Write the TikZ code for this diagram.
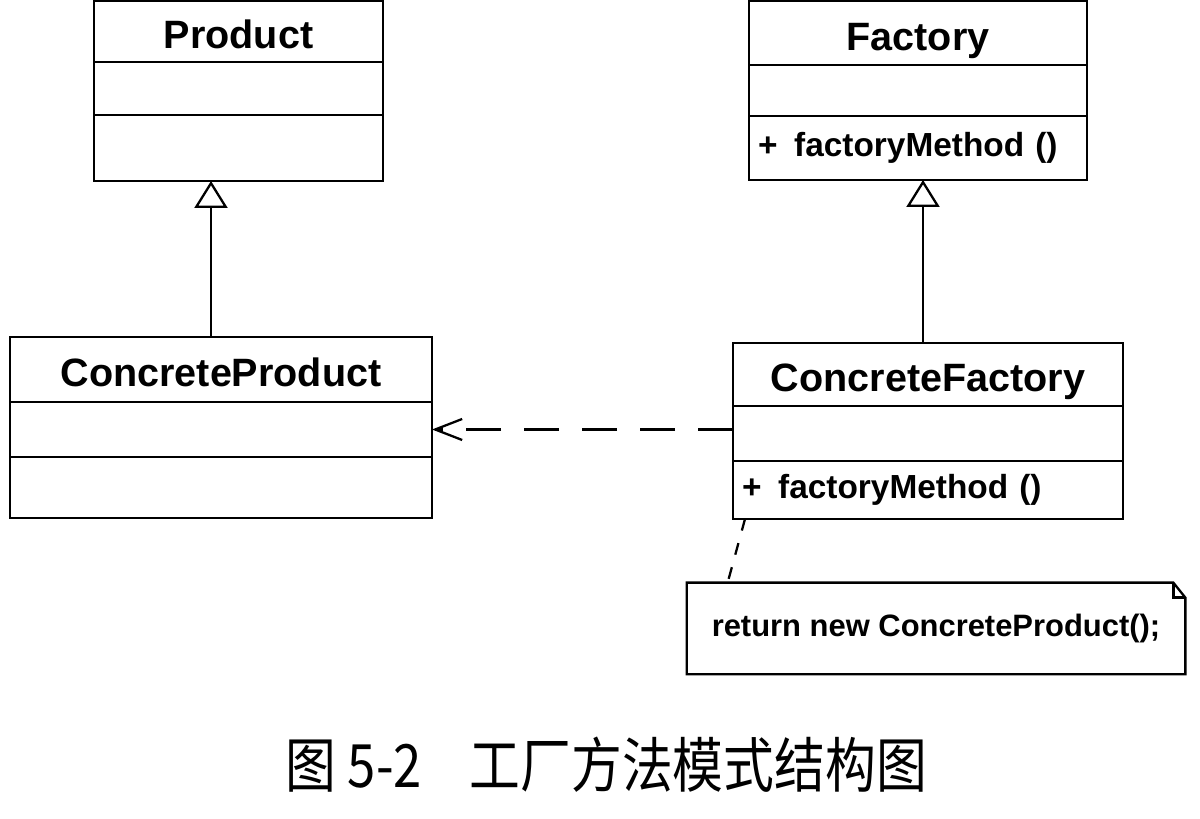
\documentclass[tikz,border=0pt]{standalone}
\usepackage{fontspec}
\setmainfont{Liberation Sans}
\newfontfamily\cjk[FakeStretch=0.85]{Noto Sans CJK SC}
\usepackage{tikz}
\usetikzlibrary{positioning,arrows.meta,calc}
\tikzset{
    classname/.style = {
        draw,
        shape=rectangle,
        line width=1.3pt,
        outer sep=0pt,
        inner sep=0pt,
        text height=0.7cm,
        text depth=0pt,
        font=\fontsize{22.5}{27}\selectfont\bfseries
    },
    compart/.style = {
        draw,
        shape=rectangle,
        line width=1.3pt,
        outer sep=0pt,
        inner xsep=0.18cm,
        inner ysep=0pt,
        align=left,
        font=\fontsize{19}{23}\selectfont\bfseries
    },
    notebox/.style = {
        shape=rectangle,
        minimum width=9.96cm,
        minimum height=1.82cm,
        font=\fontsize{17.6}{21}\selectfont\bfseries
    },
    inherit/.style = {
        -{Triangle[open, length=0.54cm, width=0.66cm]},
        line width=1.3pt
    },
    depend/.style = {
        -{Straight Barb[length=0.54cm, width=0.42cm]},
        line width=1.3pt,
        dash pattern=on 0.7cm off 0.46cm
    },
    notelink/.style = {
        line width=1.3pt,
        dash pattern=on 0.24cm off 0.26cm
    },
}

\begin{document}
\begin{tikzpicture}
            \useasboundingbox (0,0) rectangle (24,16.38);

            \node[classname, minimum width=5.78cm, minimum height=1.22cm] (product) at (4.77,15.75) {Product};
            \node[compart, text width=5.42cm, minimum height=1.06cm, below=0pt of product] (pattr) {};
            \node[compart, text width=5.42cm, minimum height=1.32cm, below=0pt of pattr] (pops) {};

            \node[classname, minimum width=6.76cm, minimum height=1.28cm] (factory) at (18.36,15.72) {Factory};
            \node[compart, text width=6.40cm, minimum height=1.02cm, below=0pt of factory] (fattr) {};
            \node[compart, text width=6.40cm, minimum height=1.28cm, below=0pt of fattr] (fops) {+\hspace{0.5em}factoryMethod ()};

            \node[classname, minimum width=8.44cm, minimum height=1.30cm] (cproduct) at (4.42,8.99) {ConcreteProduct};
            \node[compart, text width=8.08cm, minimum height=1.10cm, below=0pt of cproduct] (cpattr) {};
            \node[compart, text width=8.08cm, minimum height=1.22cm, below=0pt of cpattr] (cpops) {};

            \node[classname, minimum width=7.80cm, minimum height=1.26cm] (cfactory) at (18.56,8.89) {ConcreteFactory};
            \node[compart, text width=7.44cm, minimum height=1.10cm, below=0pt of cfactory] (cfattr) {};
            \node[compart, text width=7.44cm, minimum height=1.16cm, below=0pt of cfattr] (cfops) {+\hspace{0.5em}factoryMethod ()};

            \node[notebox] (note) at (18.72,3.81) {return new ConcreteProduct();};
            \draw[line width=1.3pt] (note.north west) -- ([xshift=-0.24cm]note.north east)
                -- ([yshift=-0.3cm]note.north east) -- (note.south east) -- (note.south west) -- cycle;
            \draw[line width=1.3pt] ([xshift=-0.24cm]note.north east) |- ([yshift=-0.3cm]note.north east);

            \path[draw, inherit] ([xshift=-0.2cm]cproduct.north) -- ([xshift=-0.2cm]cproduct.north |- pops.south);
            \path[draw, inherit] ([xshift=-0.1cm]cfactory.north) -- ([xshift=-0.1cm]cfactory.north |- fops.south);
            \path[draw, depend] (cfattr.west |- cpattr.east) -- (cpattr.east);
            \path[draw, notelink] ([xshift=0.24cm]cfops.south west) -- ([xshift=0.82cm]note.north west);

            \node (caption) at (12.12,1.08) {\cjk\fontsize{34}{40}\selectfont 图\hspace{0.2em}5-2\hspace{0.8em}工厂方法模式结构图};
        \end{tikzpicture}
\end{document}
